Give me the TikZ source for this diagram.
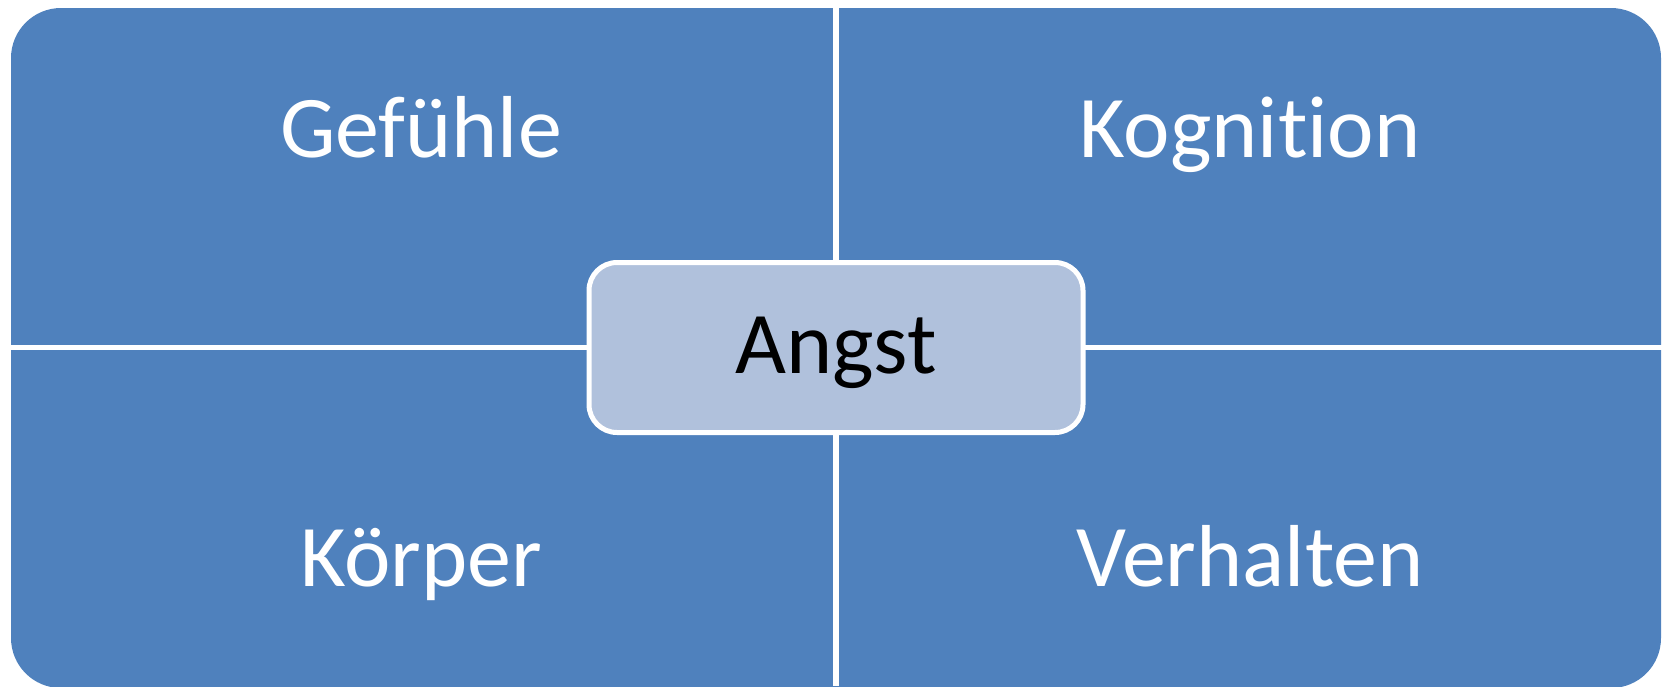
\documentclass[tikz,border=0pt]{standalone}
\usepackage{fontspec}
\setmainfont{Carlito}[Ligatures={NoCommon}]
\definecolor{quadblue}{HTML}{4F81BD}
\definecolor{corefill}{HTML}{B0C1DC}
\tikzset{
  quadlabel/.style={anchor=base, text=white, inner sep=0pt,
    font=\fontsize{88}{100}\selectfont},
  corebox/.style={draw=white, line width=5pt, fill=corefill,
    rounded corners=28pt, minimum width=494pt, minimum height=170pt,
    inner sep=0pt, text=black, text height=51pt, text depth=0pt,
    font=\fontsize{88}{100}\selectfont},
  gap/.style={fill=white}
}
\begin{document}
\begin{tikzpicture}[x=1pt,y=-1pt]
  \useasboundingbox (0,0) rectangle (1665,686);
  \clip (0,0) rectangle (1665,686);
  % outer matrix body
  \fill[quadblue, rounded corners=50pt] (11,8) rectangle (1661,688);
  % white gaps separating the four quadrants
  \fill[gap] (833,0) rectangle (839,686);
  \fill[gap] (0,345) rectangle (1665,350);
  % quadrant labels
  \node[quadlabel] (gef) at (421,157) {Gefühle};
  \node[quadlabel] (kog) at (1250,157) {Kognition};
  \node[quadlabel] (koe) at (421,586) {Körper};
  \node[quadlabel] (ver) at (1250,586) {Verhalten};
  % central box
  \node[corebox] (angst) at (836,347.5) {Angst};
\end{tikzpicture}
\end{document}
